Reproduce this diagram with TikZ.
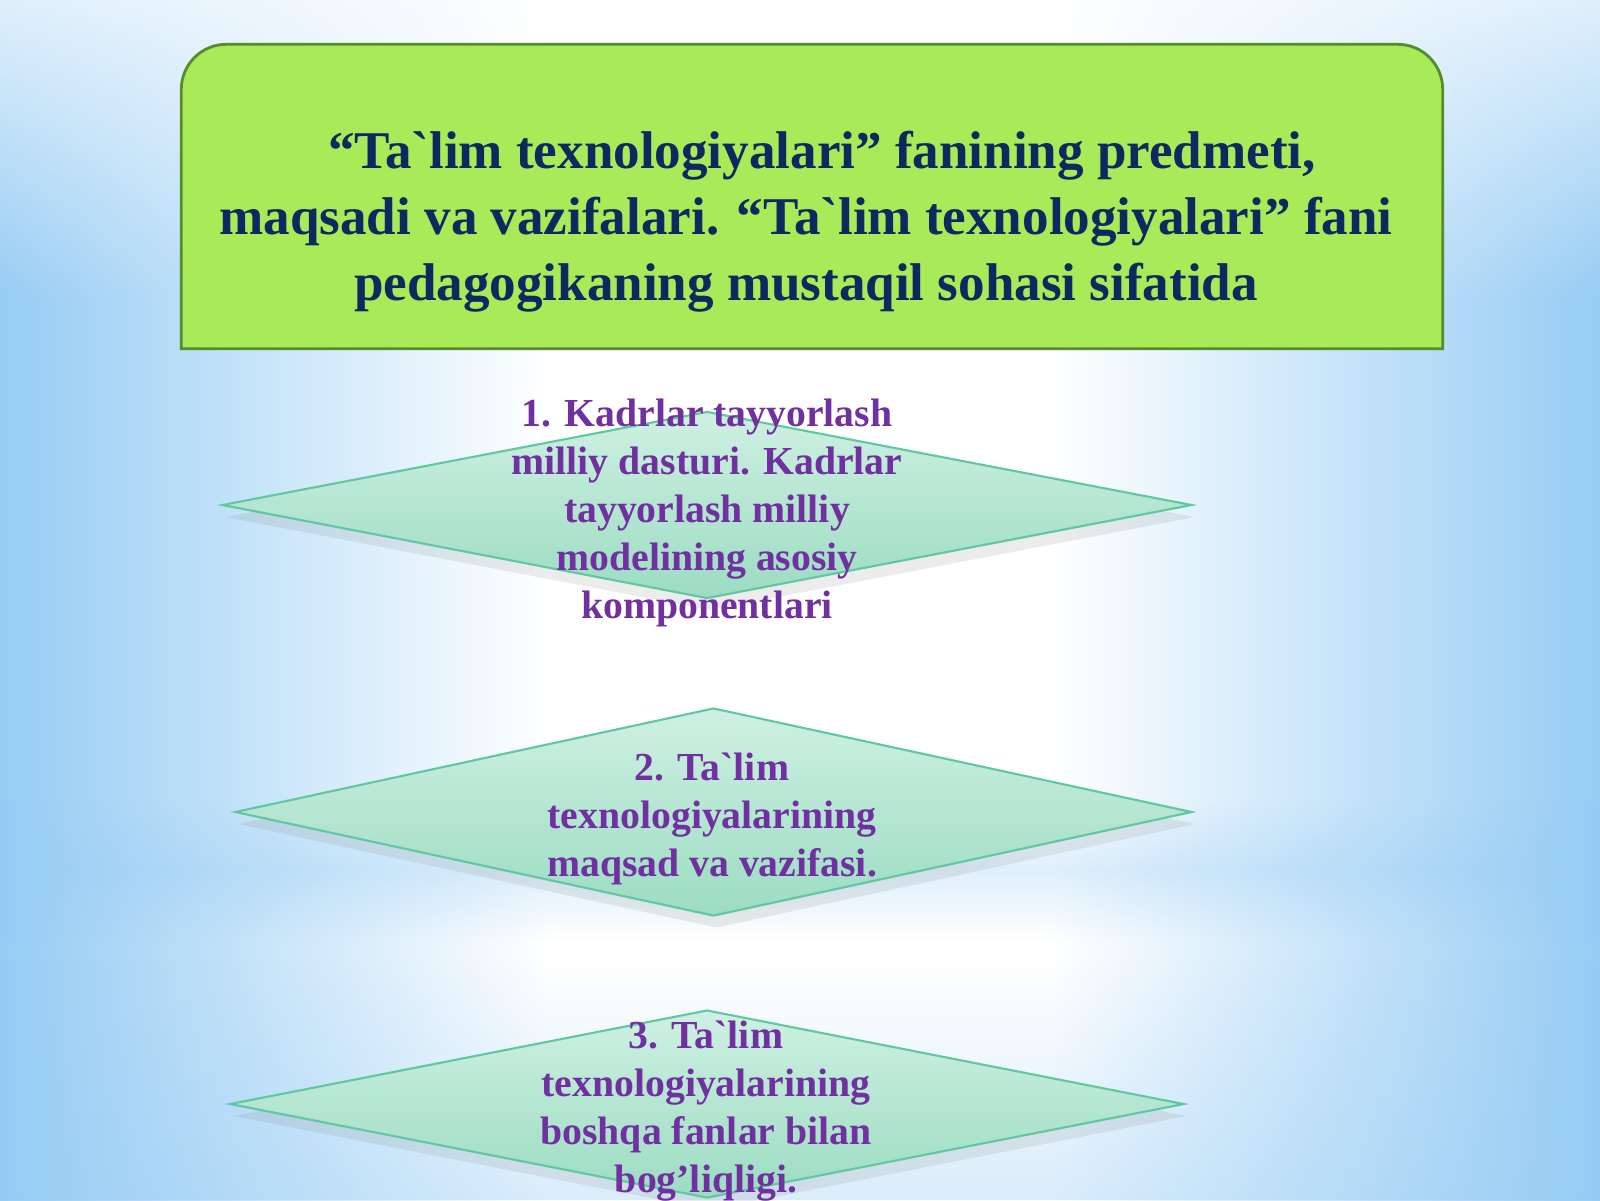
\documentclass[tikz,border=0pt]{standalone}
\usepackage{fontspec}
\setmainfont{Liberation Serif}
\usepackage{tikz}
\usetikzlibrary{calc,positioning,shapes.geometric,shadows,fadings}
\usepackage{xcolor}
\definecolor{skyc}{RGB}{150,204,244}
\definecolor{limec}{RGB}{168,234,88}
\definecolor{limeb}{RGB}{86,140,44}
\definecolor{navyc}{RGB}{16,40,96}
\definecolor{mintt}{RGB}{206,240,226}
\definecolor{mintb}{RGB}{156,220,194}
\definecolor{mintl}{RGB}{96,200,160}
\definecolor{purc}{RGB}{112,48,160}
\newcommand{\bq}{\textasciigrave}
\tikzset{
  head/.style={align=center,font=\fontsize{15.1}{18.8}\selectfont\bfseries,text=navyc,inner sep=0pt},
  headbox/.style={fill=limec,draw=limeb,line width=0.8pt},
  dia/.style={diamond,draw=mintl,line width=0.6pt,top color=mintt,bottom color=mintb,inner sep=0pt,
    drop shadow={opacity=0.15,shadow xshift=0.3mm,shadow yshift=-1.2mm}},
  dtxt/.style={align=center,font=\fontsize{11.3}{13.65}\selectfont\bfseries,text=purc,inner sep=0pt},
}
\begin{document}
\begin{tikzpicture}
  \useasboundingbox (0,0) rectangle (16,-12);
  % background
  \fill[white] (0,0) rectangle (16,-12);
  \shade[left color=skyc,right color=white] (0,0) rectangle (5.5,-12);
  \shade[left color=white,right color=skyc] (10.5,0) rectangle (16,-12);
  \fill[white,path fading=south,opacity=0.7] (0,0) rectangle (16,-3);
  \fill[skyc,path fading=north,opacity=0.3] (0,-8.0) rectangle (16,-8.7);
  \fill[skyc,path fading=south,opacity=0.3] (0,-8.7) rectangle (16,-9.4);
  \fill[skyc,path fading=north,opacity=0.35] (0,-9.6) rectangle (16,-12);
  % title
  \node[minimum width=12.6cm,minimum height=3.03cm,inner sep=0pt] (box) at (8.12,-1.965) {};
  \path[headbox] (box.south west) [rounded corners=4.5mm] -- (box.north west) -- (box.north east) [sharp corners] -- (box.south east) -- cycle;
  \node[head] (title) at (8.06,-2.22) {\hspace*{0.6em}“Ta\bq lim texnologiyalari” fanining predmeti,\\
    maqsadi va vazifalari. “Ta\bq lim texnologiyalari” fani\\
    pedagogikaning mustaqil sohasi sifatida};
  % diamonds
  \node[dia,minimum width=9.7cm,minimum height=1.87cm] (d1) at (7.07,-5.05) {};
  \node[dtxt] (t1) at (7.07,-5.13) {1. Kadrlar tayyorlash\\ milliy dasturi. Kadrlar\\ tayyorlash milliy\\ modelining asosiy\\ komponentlari};
  \node[dia,minimum width=9.57cm,minimum height=2.08cm] (d2) at (7.135,-8.12) {};
  \node[dtxt] (t2) at (7.12,-8.19) {2. Ta\bq lim\\ texnologiyalarining\\ maqsad va vazifasi.};
  \node[dia,minimum width=9.54cm,minimum height=1.88cm] (d3) at (7.07,-11.04) {};
  \node[dtxt] (t3) at (7.06,-11.11) {3. Ta\bq lim\\ texnologiyalarining\\ boshqa fanlar bilan\\ bog’liqligi.};
\end{tikzpicture}
\end{document}
